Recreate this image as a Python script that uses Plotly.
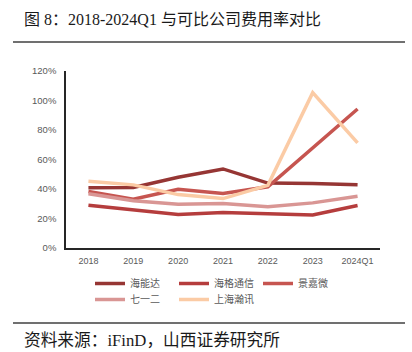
import plotly.graph_objects as go

categories = ["2018", "2019", "2020", "2021", "2022", "2023", "2024Q1"]
hainengda = [40.8, 41.0, 48.0, 53.6, 44.0, 43.7, 42.8]
haige = [29.0, 25.6, 22.7, 24.0, 23.3, 22.4, 28.8]
jingjiawei = [38.3, 33.0, 39.8, 37.0, 41.5, 67.7, 94.2]
qiyier = [36.8, 32.0, 29.7, 30.1, 27.9, 30.6, 35.1]
shanghaihanxun = [45.3, 42.8, 36.2, 33.5, 42.5, 105.3, 71.3]
y_ticks = [0, 20, 40, 60, 80, 100, 120]
y_tick_labels = ["0%", "20%", "40%", "60%", "80%", "100%", "120%"]

series = [
    ("海能达", hainengda, "#963634", "legend"),
    ("海格通信", haige, "#B53D3D", "legend"),
    ("景嘉微", jingjiawei, "#C65550", "legend"),
    ("七一二", qiyier, "#D99694", "legend2"),
    ("上海瀚讯", shanghaihanxun, "#FBCBA5", "legend2"),
]

fig = go.Figure()
for name, vals, color, lg in series:
    fig.add_trace(go.Scatter(
        x=categories, y=vals, name=name, mode="lines",
        line=dict(color=color, width=3.5), legend=lg,
    ))

W, H = 412, 352
L, R, T, B = 66, 32, 71, 104
pw, ph = W - L - R, H - T - B

def px(x):
    return (x - L) / pw

def py(y):
    return (H - B - y) / ph

legend_font = dict(family="Liberation Sans, Noto Sans CJK SC", size=10, color="#595959")

fig.update_layout(
    width=W, height=H,
    margin=dict(l=L, r=R, t=T, b=B),
    paper_bgcolor="white", plot_bgcolor="white",
    showlegend=True,
    xaxis=dict(
        type="category", range=[-0.5, 6.5], showgrid=False,
        showline=True, linecolor="#262626", linewidth=1.5,
        ticks="", ticklabelstandoff=3,
        tickfont=dict(family="Liberation Sans", size=9, color="#595959"),
        fixedrange=True,
    ),
    yaxis=dict(
        range=[0, 120], tickmode="array", tickvals=y_ticks, ticktext=y_tick_labels,
        showgrid=False,
        showline=True, linecolor="#262626", linewidth=1.5, zeroline=False,
        ticks="", ticklabelstandoff=6,
        tickfont=dict(family="Liberation Sans", size=9.5, color="#595959"),
        fixedrange=True,
    ),
    legend=dict(
        orientation="h", x=px(90), y=py(269), xanchor="left", yanchor="top",
        entrywidth=39, entrywidthmode="pixels", itemwidth=30,
        font=legend_font, bgcolor="rgba(0,0,0,0)", tracegroupgap=0,
    ),
    legend2=dict(
        orientation="h", x=px(90), y=py(285), xanchor="left", yanchor="top",
        entrywidth=39, entrywidthmode="pixels", itemwidth=30,
        font=legend_font, bgcolor="rgba(0,0,0,0)", tracegroupgap=0,
    ),
    shapes=[
        dict(type="line", xref="paper", yref="paper", x0=px(13), x1=px(405),
             y0=py(42), y1=py(42), line=dict(color="#404040", width=1.5)),
        dict(type="line", xref="paper", yref="paper", x0=px(13), x1=px(405),
             y0=py(323), y1=py(323), line=dict(color="#404040", width=1.5)),
    ],
    annotations=[
        dict(text="图 8：2018-2024Q1 与可比公司费用率对比", xref="paper", yref="paper",
             x=px(22), y=py(19), xanchor="left", yanchor="middle", showarrow=False,
             font=dict(family="Liberation Serif, Noto Sans CJK SC", size=16, color="#1a1a1a")),
        dict(text="资料来源：iFinD，山西证券研究所", xref="paper", yref="paper",
             x=px(22), y=py(340), xanchor="left", yanchor="middle", showarrow=False,
             font=dict(family="Liberation Serif, Noto Sans CJK SC", size=16.7, color="#1a1a1a")),
    ],
)

fig.write_html("out.html")
